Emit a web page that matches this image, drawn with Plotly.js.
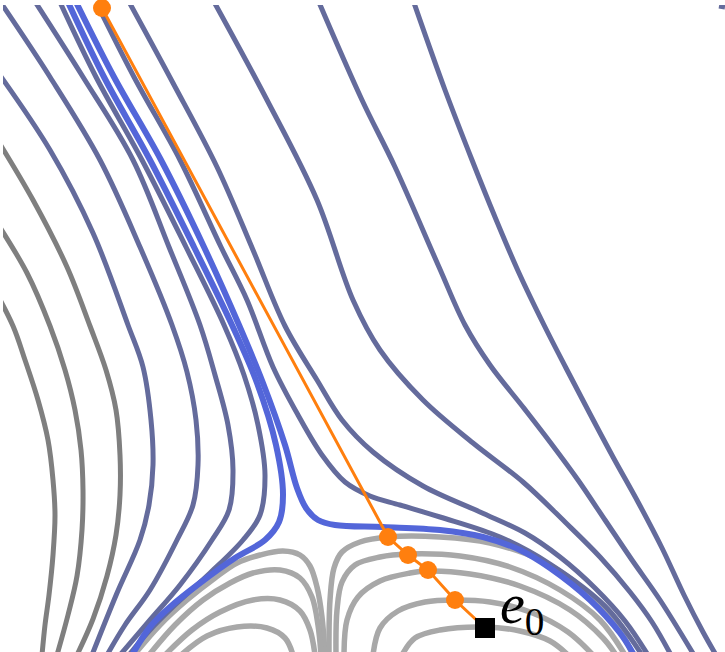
<!DOCTYPE html>
<html>
<head>
<meta charset="utf-8">
<script src="https://cdn.plot.ly/plotly-3.0.1.min.js"></script>
<style>
  html, body { margin: 0; padding: 0; background: #fff; }
  #plot { width: 725px; height: 652px; }
</style>
</head>
<body>
<div id="plot"></div>
<script>
// curves, as [x, y] in plot units (x right, y down)

// dark grey flow lines, far left
var darkG1 = [[-8,285],[13,326],[25,360],[38,400],[48,440],[53,480],[55,515],[53,555],[49,595],[45,625],[42,655]];
var darkG2 = [[-8,215],[27,273],[50,326],[65,370],[75,410],[81,450],[83,490],[82,530],[77,576],[68,615],[57,655]];
var darkG3 = [[-8,131],[33,200],[67,267],[90,326],[106,370],[116,410],[120,455],[120,495],[116,535],[107,576],[93,619],[77,655]];

// blue-grey flow lines
var flowB1 = [[-8,64],[50,150],[93,233],[128,325],[143,367],[151,420],[153,465],[149,505],[140,540],[117,593],[92,655]];
var flowB2 = [[-1,0],[50,77],[100,160],[140,247],[172,325],[187,372],[196,420],[198,465],[193,505],[177,540],[150,590],[125,625],[107,655]];
var flowB3 = [[34,0],[83,77],[133,160],[169,247],[200,325],[215,375],[228,425],[233,470],[229,510],[212,540],[180,585],[150,620],[120,655]];
var flowB4 = [[59,0],[96,77],[142,160],[186,247],[224,325],[244,375],[258,425],[265,475],[260,515],[243,540],[210,573],[175,605],[150,630],[129,655]];
var flowB5 = [[95,0],[134,77],[180,160],[221,247],[247,300],[273,367],[298,415],[322,455],[345,482],[370,496],[400,505],[440,517],[500,537],[550,564],[605,606],[642,655]];
var flowC1 = [[128,0],[173,83],[217,167],[253,250],[285,326],[317,380],[342,420],[373,452],[423,486],[480,512],[525,533],[560,557],[595,588],[625,621],[648,655]];
var flowC2 = [[213,0],[267,100],[317,200],[353,300],[380,350],[423,400],[473,443],[523,482],[565,522],[600,557],[630,592],[652,622],[671,655]];
var flowC3 = [[318,0],[362,100],[395,167],[439,267],[465,325],[490,365],[523,407],[550,442],[578,480],[605,520],[632,560],[660,600],[694,655]];
var flowC4 = [[413,0],[445,90],[472,160],[495,217],[519,273],[544,325],[566,368],[589,412],[613,457],[638,502],[662,548],[684,595],[703,632],[716,655]];
var flowC5 = [[719,6],[725,7]];

// bright blue separatrices
var sepLeft = [[67,0],[104,77],[150,160],[194,247],[232,325],[257,383],[276,445],[283,495],[279,522],[265,540],[235,558],[200,583],[170,607],[150,627],[132,655]];
var sepRight = [[75,0],[114,77],[161,160],[204,247],[239,325],[263,383],[285,445],[297,488],[306,508],[318,520],[335,525],[383,527],[440,530],[483,537],[520,550],[550,568],[590,600],[620,633],[634,655]];

// light grey arches, left of the saddle
var archL1 = [[134,655],[160,625],[187,600],[215,578],[237,563],[260,555],[283,551],[300,555],[310,566],[317,587],[322,617],[325,655]];
var archL2 = [[149,655],[175,625],[203,600],[230,583],[253,573],[280,570],[300,578],[312,597],[318,625],[321,655]];
var archL3 = [[165,655],[192,630],[220,612],[253,600],[280,600],[300,611],[310,630],[315,655]];
var archL4 = [[181,655],[207,636],[237,627],[267,628],[285,638],[293,655]];

// light grey arches, right of the saddle
var archR1 = [[329,655],[330,600],[334,568],[342,552],[360,542],[388,537],[440,537],[490,543],[540,560],[585,590],[615,622],[633,655]];
var archR2 = [[336,655],[337,610],[342,582],[355,565],[380,557],[408,554],[460,556],[510,567],[560,590],[600,620],[625,655]];
var archR3 = [[344,655],[347,620],[358,597],[380,581],[410,573],[428,571],[470,574],[520,586],[570,610],[603,638],[616,655]];
var archR4 = [[373,655],[380,628],[398,611],[425,602],[455,600],[490,602],[530,612],[568,632],[593,655]];
var archR5 = [[402,655],[415,638],[440,630],[485,627],[520,631],[550,641],[568,655]];

// descent path and its end point e0
var pathX = [102, 388, 408, 428, 455, 485];
var pathY = [8, 537, 555, 570, 600, 628];
var dotX = [102, 388, 408, 428, 455];
var dotY = [8, 537, 555, 570, 600];
var endX = [485];
var endY = [628];

var BLUEGREY = '#646b9c', DARKGREY = '#7f7f7f', LIGHTGREY = '#a8a8a8', BRIGHT = '#5366d9', ORANGE = '#ff7f0e';

function curve(pts, color, width) {
  return {
    type: 'scatter',
    mode: 'lines',
    x: pts.map(function (p) { return p[0]; }),
    y: pts.map(function (p) { return p[1]; }),
    line: { color: color, width: width, shape: 'spline', smoothing: 1 },
    hoverinfo: 'skip'
  };
}

var data = [];
[archL1, archL2, archL3, archL4, archR1, archR2, archR3, archR4, archR5].forEach(function (c) {
  data.push(curve(c, LIGHTGREY, 5.5));
});
[darkG1, darkG2, darkG3].forEach(function (c) {
  data.push(curve(c, DARKGREY, 5));
});
[flowB1, flowB2, flowB3, flowB4, flowB5, flowC1, flowC2, flowC3, flowC4, flowC5].forEach(function (c) {
  data.push(curve(c, BLUEGREY, 5));
});
[sepLeft, sepRight].forEach(function (c) {
  data.push(curve(c, BRIGHT, 6));
});

data.push({
  type: 'scatter', mode: 'lines',
  x: pathX, y: pathY,
  line: { color: ORANGE, width: 3 },
  hoverinfo: 'skip'
});
data.push({
  type: 'scatter', mode: 'markers',
  x: dotX, y: dotY,
  marker: { color: ORANGE, size: 18, opacity: 1, line: { width: 0 } },
  cliponaxis: false,
  hoverinfo: 'skip'
});
data.push({
  type: 'scatter', mode: 'markers',
  x: endX, y: endY,
  marker: { color: '#000', symbol: 'square', size: 20, opacity: 1, line: { width: 0 } },
  cliponaxis: false,
  hoverinfo: 'skip'
});

var layout = {
  width: 725,
  height: 652,
  margin: { l: 3, r: 0, t: 5, b: 0 },
  showlegend: false,
  paper_bgcolor: '#fff',
  plot_bgcolor: '#fff',
  xaxis: { range: [3, 725], visible: false, fixedrange: true },
  yaxis: { range: [652, 5], visible: false, fixedrange: true },
  annotations: [{
    x: 498, y: 608,
    xref: 'x', yref: 'y',
    xanchor: 'left', yanchor: 'middle',
    text: '<i>e</i><sub>0</sub>',
    showarrow: false,
    font: { family: 'Liberation Serif', size: 56, color: '#000' }
  }]
};

Plotly.newPlot('plot', data, layout, { displayModeBar: false, staticPlot: true });
</script>
</body>
</html>
